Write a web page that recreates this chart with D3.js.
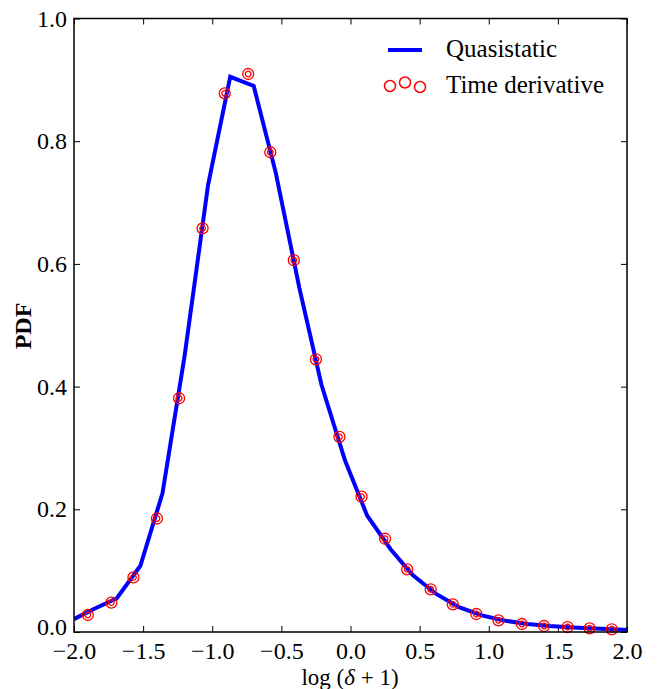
<!DOCTYPE html>
<html>
<head>
<meta charset="utf-8">
<script src="https://cdn.jsdelivr.net/npm/d3@7"></script>
<style>
  body { margin: 0; background: #fff; }
  svg text { font-family: "Liberation Serif", "DejaVu Serif", serif; fill: #000; }
  .axis path.domain { display: none; }
  .axis line { stroke: #000; stroke-width: 1; }
</style>
</head>
<body>
<div id="chart"></div>
<script>
      // Quasistatic curve (line vertices)
      var lineX = [-2.0, -1.86, -1.69, -1.52, -1.36, -1.20, -1.03, -0.87, -0.70, -0.54, -0.37, -0.21, -0.04,
                   0.12, 0.29, 0.45, 0.62, 0.78, 0.95, 1.11, 1.28, 1.44, 1.61, 1.77, 1.94, 2.0];
      var lineY = [0.021, 0.037, 0.055, 0.108, 0.226, 0.45, 0.729, 0.905, 0.89, 0.748, 0.561, 0.403, 0.28,
                   0.19, 0.135, 0.093, 0.062, 0.041, 0.027, 0.0187, 0.013, 0.0098, 0.0073, 0.0057, 0.004, 0.0033];

      // Time derivative points
      var ptsX = [-1.90, -1.73, -1.57, -1.40, -1.24, -1.07, -0.91, -0.74, -0.58, -0.41, -0.25, -0.08,
                  0.08, 0.25, 0.41, 0.58, 0.74, 0.91, 1.07, 1.24, 1.40, 1.57, 1.73, 1.89];
      var ptsY = [0.0277, 0.0478, 0.089, 0.185, 0.381, 0.658, 0.878, 0.9095, 0.782, 0.606, 0.4445, 0.318,
                  0.2205, 0.152, 0.102, 0.0696, 0.045, 0.0293, 0.019, 0.013, 0.0098, 0.0081, 0.006, 0.0044];

      var xTicks = [-2.0, -1.5, -1.0, -0.5, 0.0, 0.5, 1.0, 1.5, 2.0];
      var yTicks = [0.0, 0.2, 0.4, 0.6, 0.8, 1.0];

      var seriesNames = ["Quasistatic", "Time derivative"];
      var legendMarkerOffsets = [0.0, -0.35, 0.1]; // scatterpoint y offsets in legend

      var margin = {top: 18.5, right: 30, bottom: 57, left: 74};
      var width = 657 - margin.left - margin.right,
          height = 689 - margin.top - margin.bottom;

      var svg = d3.select("#chart").append("svg")
          .attr("width", 657)
          .attr("height", 689);

      var canvas = svg.append("g")
          .attr("transform", "translate(" + margin.left + "," + margin.top + ")");

      ////// Scales /////////////////
      var xScale = d3.scaleLinear().domain([-2, 2]).range([0, width]);
      var yScale = d3.scaleLinear().domain([0, 1]).range([height, 0]);

      var fmt = d3.format(".1f");

      ////// Axes (inward ticks on all four sides) //////
      canvas.append("g")
          .attr("class", "x axis")
          .attr("transform", "translate(0," + height + ")")
          .call(d3.axisBottom(xScale).tickValues(xTicks).tickFormat(fmt)
                .tickSizeInner(-6).tickSizeOuter(0).tickPadding(10))
          .selectAll("text").attr("font-size", 24);

      canvas.append("g")
          .attr("class", "x axis")
          .call(d3.axisTop(xScale).tickValues(xTicks).tickFormat("")
                .tickSizeInner(-6).tickSizeOuter(0));

      canvas.append("g")
          .attr("class", "y axis")
          .call(d3.axisLeft(yScale).tickValues(yTicks).tickFormat(fmt)
                .tickSizeInner(-6).tickSizeOuter(0).tickPadding(7))
          .selectAll("text").attr("font-size", 24);

      canvas.append("g")
          .attr("class", "y axis")
          .attr("transform", "translate(" + width + ",0)")
          .call(d3.axisRight(yScale).tickValues(yTicks).tickFormat("")
                .tickSizeInner(-6).tickSizeOuter(0));

      // nudge the 0.0 label up a little so it clears the -2.0 label
      canvas.selectAll(".y.axis .tick text")
          .filter(function(d) { return d === 0; })
          .attr("dy", "0.1em");

      // clip so the curve stays inside the frame
      canvas.append("clipPath").attr("id", "clip")
          .append("rect").attr("width", width).attr("height", height);

      // quasistatic line
      var lineData = lineX.map(function(d, i) { return {x: d, y: lineY[i]}; });
      var line = d3.line()
          .x(function(d) { return xScale(d.x); })
          .y(function(d) { return yScale(d.y); });

      canvas.append("path")
          .datum(lineData)
          .attr("clip-path", "url(#clip)")
          .attr("fill", "none")
          .attr("stroke", "#0000ff")
          .attr("stroke-width", 4)
          .attr("stroke-linejoin", "miter")
          .attr("d", line);

      // time derivative markers (double rings)
      var ptsData = ptsX.map(function(d, i) { return {x: d, y: ptsY[i]}; });
      var marks = canvas.append("g").attr("id", "points")
          .selectAll(".pt")
          .data(ptsData)
          .enter()
          .append("g")
          .attr("class", "pt")
          .attr("transform", function(d) {
              return "translate(" + xScale(d.x) + "," + yScale(d.y) + ")";
          });
      marks.append("circle").attr("r", 5.5)
          .attr("fill", "none").attr("stroke", "#ff0000").attr("stroke-width", 1.3);
      marks.append("circle").attr("r", 2.8)
          .attr("fill", "none").attr("stroke", "#ff0000").attr("stroke-width", 1.3);

      // frame
      canvas.append("rect")
          .attr("width", width)
          .attr("height", height)
          .attr("fill", "none")
          .attr("stroke", "#000")
          .attr("stroke-width", 1.5);

      // axis labels
      svg.append("text")
          .attr("transform", "translate(31,326) rotate(-90)")
          .attr("text-anchor", "middle")
          .attr("font-size", 24)
          .attr("font-weight", "bold")
          .text("PDF");

      var xl = svg.append("text")
          .attr("x", 350)
          .attr("y", 685)
          .attr("text-anchor", "middle")
          .attr("font-size", 23);
      xl.append("tspan").text("log (");
      xl.append("tspan").attr("font-style", "italic").text("δ");
      xl.append("tspan").text(" + 1)");

      // legend
      var legend = svg.append("g").attr("class", "legend");
      legend.append("line")
          .attr("x1", 388).attr("x2", 422)
          .attr("y1", 50).attr("y2", 50)
          .attr("stroke", "#0000ff").attr("stroke-width", 4);
      legend.append("text")
          .attr("x", 446).attr("y", 57)
          .attr("font-size", 25)
          .text(seriesNames[0]);

      legend.selectAll(".lm")
          .data(legendMarkerOffsets)
          .enter()
          .append("circle")
          .attr("class", "lm")
          .attr("cx", function(d, i) { return 390 + i * 15; })
          .attr("cy", function(d) { return 86 + d * 10; })
          .attr("r", 5.5)
          .attr("fill", "none")
          .attr("stroke", "#ff0000")
          .attr("stroke-width", 1.5);
      legend.append("text")
          .attr("x", 446).attr("y", 93)
          .attr("font-size", 25)
          .text(seriesNames[1]);
</script>
</body>
</html>
